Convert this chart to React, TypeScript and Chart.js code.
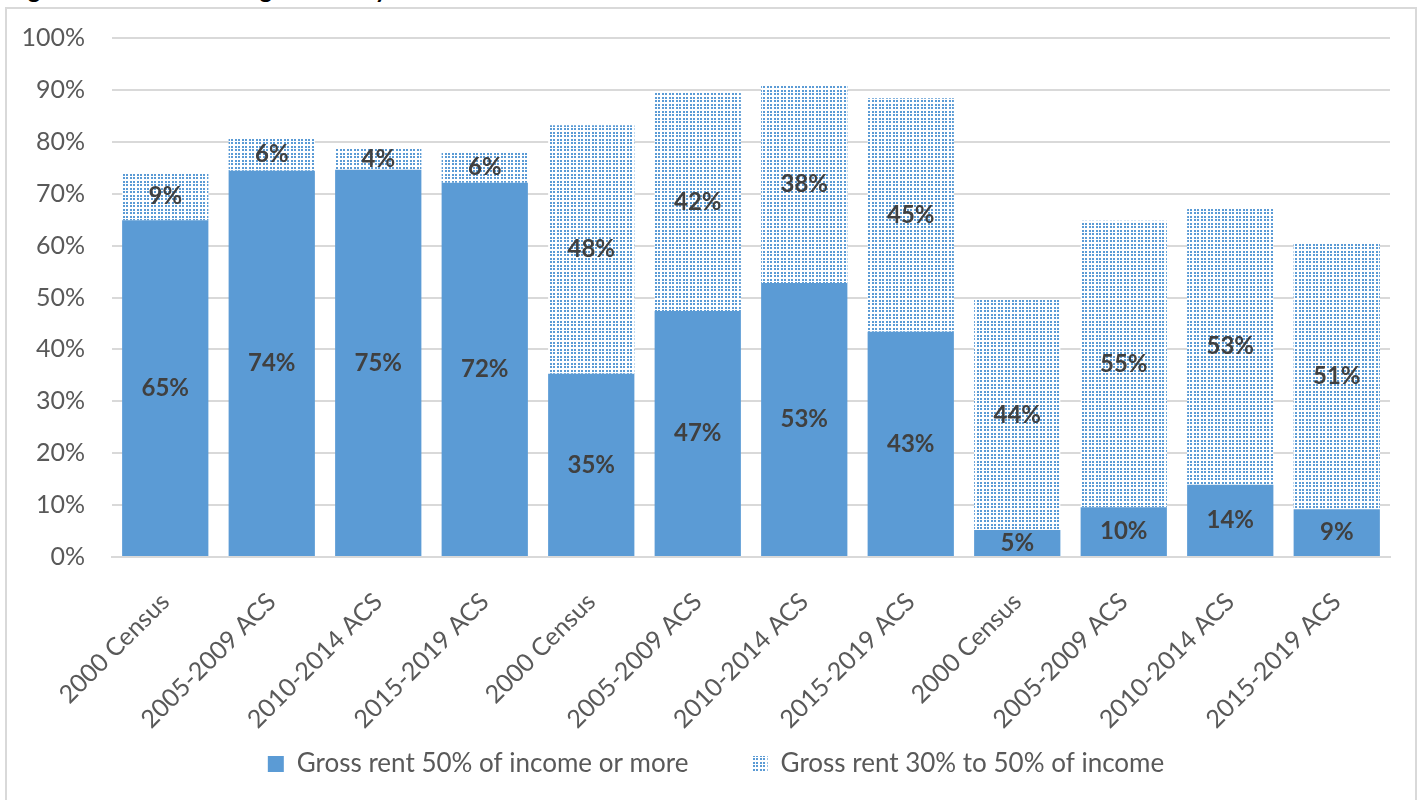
import React, { useEffect, useRef } from "react";
import { Chart, registerables } from "chart.js";

Chart.register(...registerables);

const categories = [
  "2000 Census", "2005-2009 ACS", "2010-2014 ACS", "2015-2019 ACS",
  "2000 Census", "2005-2009 ACS", "2010-2014 ACS", "2015-2019 ACS",
  "2000 Census", "2005-2009 ACS", "2010-2014 ACS", "2015-2019 ACS",
];
const rent50PlusLabel = "Gross rent 50% of income or more";
const rent30to50Label = "Gross rent 30% to 50% of income";
const rent50Plus = [64.9, 74.4, 74.6, 72.1, 35.3, 47.4, 52.8, 43.4, 5.2, 9.6, 13.9, 9.2];
const rent30to50 = [9.1, 6.3, 4.2, 6.1, 47.9, 42.0, 38.0, 45.0, 44.3, 55.2, 53.3, 51.4];
const yTicks = [0, 10, 20, 30, 40, 50, 60, 70, 80, 90, 100];

const BLUE = "#5b9bd5";
const FONT = "Lato, 'Open Sans', sans-serif";
const LEGEND_SIZE = 26;

function makeDots(): CanvasPattern | string {
  const c = document.createElement("canvas");
  c.width = 7;
  c.height = 7;
  const ctx = c.getContext("2d");
  if (!ctx) return BLUE;
  ctx.fillStyle = "#ffffff";
  ctx.fillRect(0, 0, 7, 7);
  ctx.fillStyle = BLUE;
  for (const x of [0, 4]) for (const y of [0, 4]) ctx.fillRect(x, y, 2, 2);
  const p = ctx.createPattern(c, "repeat");
  return p || BLUE;
}

function trailingGap(px: number): string {
  const c = document.createElement("canvas").getContext("2d");
  if (!c) return "";
  c.font = `${LEGEND_SIZE}px ${FONT}`;
  const w = c.measureText(" ").width || 6;
  return " ".repeat(Math.max(0, Math.round(px / w)));
}

const labelPlugin = {
  id: "segLabels",
  afterDatasetsDraw(chart: any) {
    const ctx = chart.ctx;
    ctx.save();
    ctx.fillStyle = "#404040";
    ctx.font = `bold 24px ${FONT}`;
    ctx.textAlign = "center";
    ctx.textBaseline = "middle";
    chart.data.datasets.forEach((ds: any, di: number) => {
      const meta = chart.getDatasetMeta(di);
      meta.data.forEach((el: any, i: number) => {
        const v = ds.data[i];
        const cy = (el.y + el.base) / 2;
        ctx.fillText(`${Math.round(v)}%`, el.x, cy);
      });
    });
    ctx.restore();
  },
};

export default function App() {
  const ref = useRef<HTMLCanvasElement>(null);
  useEffect(() => {
    if (!ref.current) return;
    const dots = makeDots();
    const gap = trailingGap(52);
    const chart = new Chart(ref.current, {
      type: "bar",
      data: {
        labels: categories,
        datasets: [
          {
            label: rent50PlusLabel,
            data: rent50Plus,
            backgroundColor: BLUE,
            borderWidth: 0,
            barPercentage: 0.81,
            categoryPercentage: 1,
          },
          {
            label: rent30to50Label,
            data: rent30to50,
            backgroundColor: dots as any,
            borderWidth: 0,
            barPercentage: 0.81,
            categoryPercentage: 1,
          },
        ],
      },
      options: {
        animation: false,
        responsive: false,
        layout: { padding: { left: 10, right: 0, top: 29, bottom: 13 } },
        plugins: {
          legend: {
            position: "bottom",
            labels: {
              boxWidth: 16,
              boxHeight: 16,
              padding: 10,
              color: "#595959",
              font: { family: FONT, size: LEGEND_SIZE },
              generateLabels(ch: any) {
                const items = Chart.defaults.plugins.legend.labels.generateLabels(ch);
                return items.map((it: any, i: number) => ({
                  ...it,
                  lineWidth: 0,
                  text: i === 0 ? it.text + gap : it.text,
                }));
              },
            },
          },
          tooltip: { enabled: false },
        },
        scales: {
          x: {
            stacked: true,
            grid: { display: false },
            border: { color: "#d9d9d9", width: 2 },
            ticks: {
              color: "#595959",
              font: { family: FONT, size: 25 },
              minRotation: 45,
              maxRotation: 45,
              autoSkip: false,
              padding: 22,
            },
            afterFit(scale: any) {
              scale.height = 184;
              scale.paddingLeft = 0;
              scale.paddingRight = 25;
            },
          },
          y: {
            stacked: true,
            min: 0,
            max: 100,
            afterBuildTicks(scale: any) {
              scale.ticks = yTicks.map((v) => ({ value: v }));
            },
            grid: { color: "#d9d9d9", lineWidth: 2, drawTicks: false },
            border: { display: false },
            ticks: {
              color: "#595959",
              font: { family: FONT, size: 25 },
              padding: 27,
              callback: (v: any) => `${v}%`,
            },
            afterFit(scale: any) {
              scale.width = 95;
              scale.paddingTop = 0;
              scale.paddingBottom = 0;
            },
          },
        },
      },
      plugins: [labelPlugin],
    });
    return () => chart.destroy();
  }, []);

  return (
    <div>
      <div
        style={{
          position: "absolute",
          left: 8,
          top: -23,
          font: `bold 24px ${FONT}`,
          lineHeight: "24px",
          color: "#000",
          whiteSpace: "nowrap",
        }}
      >
        Figure 7: Renter Housing Burden by Income
      </div>
      <div
        style={{
          position: "absolute",
          left: 5,
          top: 7,
          width: 1412,
          height: 793,
          boxSizing: "border-box",
          borderTop: "2px solid #d9d9d9",
          borderLeft: "2px solid #d9d9d9",
          borderRight: "2px solid #d9d9d9",
          background: "#fff",
          overflow: "hidden",
        }}
      >
        <canvas ref={ref} width={1408} height={791} style={{ display: "block" }} />
      </div>
    </div>
  );
}
